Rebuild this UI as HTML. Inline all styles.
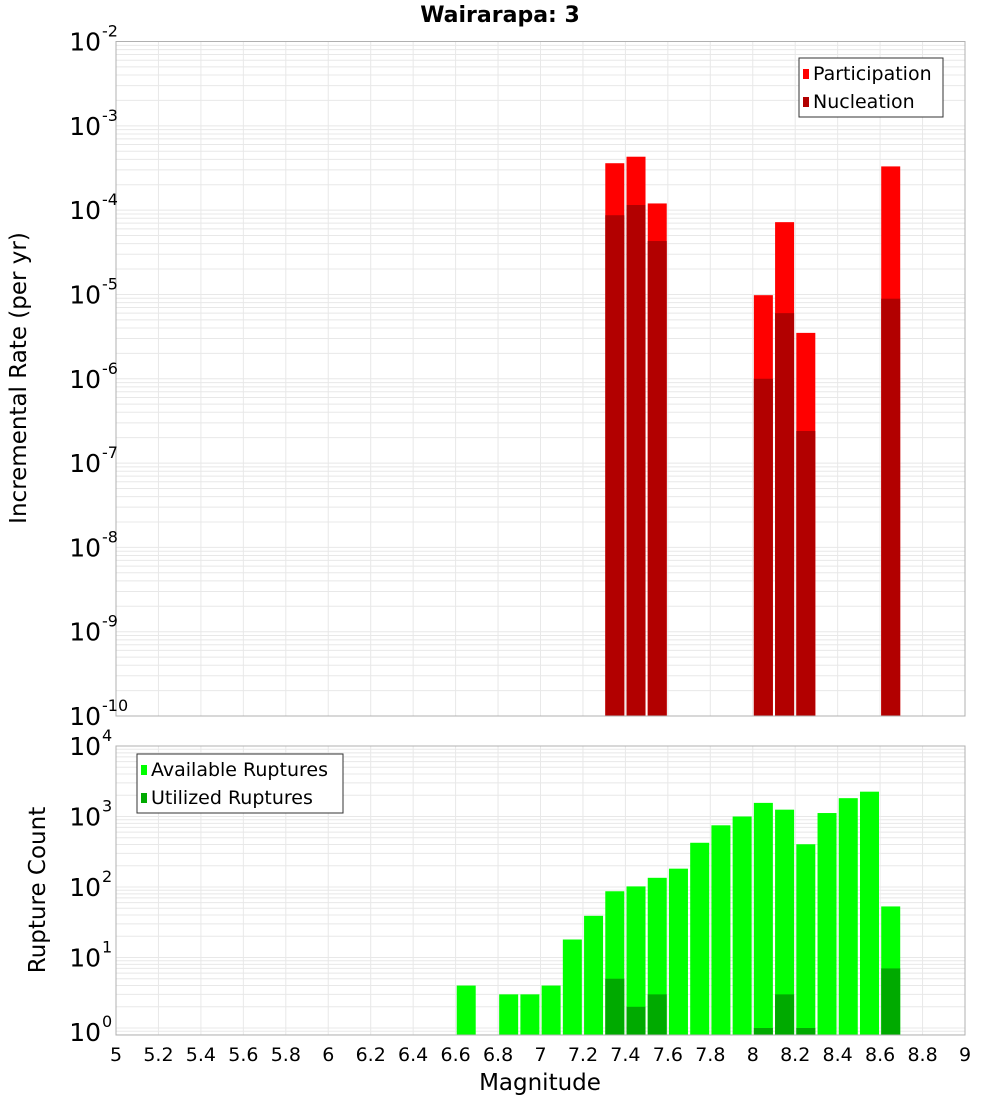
<!DOCTYPE html>
<html><head><meta charset="utf-8"><style>
body{margin:0;background:#fff}
svg{display:block;font-family:"Liberation Sans","DejaVu Sans",sans-serif}
</style></head><body>
<svg id="chart" width="1000" height="1100" viewBox="0 0 1000 1100" xmlns="http://www.w3.org/2000/svg">
<text x="500" y="22" text-anchor="middle" font-size="22" font-weight="bold" font-family="DejaVu Sans, sans-serif">Wairarapa: 3</text>
<g id="top"></g>
<g id="bot"></g>
<text transform="translate(26,378) rotate(-90)" text-anchor="middle" font-size="23" font-family="DejaVu Sans, sans-serif">Incremental Rate (per yr)</text>
<text transform="translate(45,890) rotate(-90)" text-anchor="middle" font-size="23" font-family="DejaVu Sans, sans-serif">Rupture Count</text>
<text x="540" y="1090" text-anchor="middle" font-size="23" font-family="DejaVu Sans, sans-serif">Magnitude</text>
</svg>
<script>
const rateMags = [7.35, 7.45, 7.55, 8.05, 8.15, 8.25, 8.65];
const participation = [3.6e-4, 4.3e-4, 1.2e-4, 9.8e-6, 7.2e-5, 3.5e-6, 3.3e-4];
const nucleation = [8.7e-5, 1.15e-4, 4.3e-5, 1.0e-6, 6.0e-6, 2.4e-7, 8.9e-6];
const countMags = [6.65, 6.85, 6.95, 7.05, 7.15, 7.25, 7.35, 7.45, 7.55, 7.65, 7.75, 7.85, 7.95, 8.05, 8.15, 8.25, 8.35, 8.45, 8.55, 8.65];
const available = [4, 3, 3, 4, 18, 39, 87, 102, 135, 182, 424, 750, 1000, 1560, 1250, 404, 1120, 1820, 2250, 53];
const utilized = [0, 0, 0, 0, 0, 0, 5, 2, 3, 0, 0, 0, 0, 1, 3, 1, 0, 0, 0, 7];
const xTicks = [5, 5.2, 5.4, 5.6, 5.8, 6, 6.2, 6.4, 6.6, 6.8, 7, 7.2, 7.4, 7.6, 7.8, 8, 8.2, 8.4, 8.6, 8.8, 9];
const topExps = [-2, -3, -4, -5, -6, -7, -8, -9, -10];
const botExps = [4, 3, 2, 1, 0];

const NS = "http://www.w3.org/2000/svg";
const X0 = 116, X1 = 965;
function xs(m){ return X0 + (m - 5) / 4 * (X1 - X0); }
const TT = 41.5, TB = 716;
function yTop(v){ return TB - (Math.log10(v) + 10) / 8 * (TB - TT); }
const BT = 746, BB = 1035, BPD = 70.5;
function yBot(v){ return 1028 - BPD * Math.log10(v); }
function el(tag, attrs, parent){
  const e = document.createElementNS(NS, tag);
  for (const k in attrs) e.setAttribute(k, attrs[k]);
  parent.appendChild(e); return e;
}
function grid(g, top, bot, yfn, eLo, eHi){
  for (const t of xTicks){
    const l = el('line', {x1: xs(t), x2: xs(t), y1: top, y2: bot, stroke: '#e8e8e8', 'stroke-width': 1}, g);
    
    
  }
  for (let e = eLo; e < eHi; e++){
    for (let k = 1; k < 10; k++){
      const y = yfn(k * Math.pow(10, e));
      if (y < top || y > bot) continue;
      const l = el('line', {x1: X0, x2: X1, y1: y, y2: y, stroke: '#e8e8e8', 'stroke-width': 1}, g);
      
      
    }
  }
}
function yLabel(g, y, exp){
  const t = el('text', {x: 101, y: y + 9, 'text-anchor': 'end', 'font-size': 25, 'font-family': 'DejaVu Sans, sans-serif'}, g);
  
  
  t.textContent = '10';
  const s = el('text', {x: 102, y: y - 5, 'text-anchor': 'start', 'font-size': 16, 'font-family': 'DejaVu Sans, sans-serif'}, g);
  
  
  s.textContent = String(exp);
}
function bar(g, m, yv, base, fill, name){
  const x = xs(m) - 9.5;
  const r = el('rect', {x: x, y: yv, width: 19, height: Math.max(0, base - yv), fill: fill}, g);
  
  
}
function legend(g, x, y, w, items){
  const b = el('rect', {x: x, y: y, width: w, height: 59, fill: '#fff', stroke: '#333', 'stroke-width': 1}, g);
  
  
  items.forEach((it, i) => {
    const sw = el('rect', {x: x + 4, y: y + 11 + i * 28, width: 6, height: 10, fill: it[1]}, g);
    
    
    const t = el('text', {x: x + 14, y: y + 22 + i * 28, 'font-size': 19, 'font-family': 'DejaVu Sans, sans-serif'}, g);
    
    
    t.textContent = it[0];
  });
}

// top panel
const gt = document.getElementById('top');
grid(gt, TT, TB, yTop, -10, -2);
rateMags.forEach((m, i) => {
  bar(gt, m, yTop(participation[i]), TB, '#ff0000', 'participation-bar');
  bar(gt, m, yTop(nucleation[i]), TB, '#b20000', 'nucleation-bar');
});
const ft = el('rect', {x: X0, y: TT, width: X1 - X0, height: TB - TT, fill: 'none', stroke: '#b0b0b0', 'stroke-width': 1}, gt);


topExps.forEach(e => yLabel(gt, yTop(Math.pow(10, e)), e));
legend(gt, 799, 58, 144, [['Participation', '#ff0000'], ['Nucleation', '#b20000']]);

// bottom panel
const gb = document.getElementById('bot');
grid(gb, BT, BB, yBot, -1, 4);
countMags.forEach((m, i) => {
  bar(gb, m, yBot(available[i]), BB, '#00ff00', 'available-bar');
  if (utilized[i] > 0) bar(gb, m, yBot(utilized[i]), BB, '#00aa00', 'utilized-bar');
});
const fb = el('rect', {x: X0, y: BT, width: X1 - X0, height: BB - BT, fill: 'none', stroke: '#b0b0b0', 'stroke-width': 1}, gb);


botExps.forEach(e => yLabel(gb, yBot(Math.pow(10, e)) - (e === 0 ? -4 : 0), e));
legend(gb, 137, 754, 206, [['Available Ruptures', '#00ff00'], ['Utilized Ruptures', '#00aa00']]);
xTicks.forEach(t => {
  const tx = el('text', {x: xs(t), y: 1061, 'text-anchor': 'middle', 'font-size': 19, 'font-family': 'DejaVu Sans, sans-serif'}, gb);
  
  
  tx.textContent = String(t);
});
</script>
</body></html>
